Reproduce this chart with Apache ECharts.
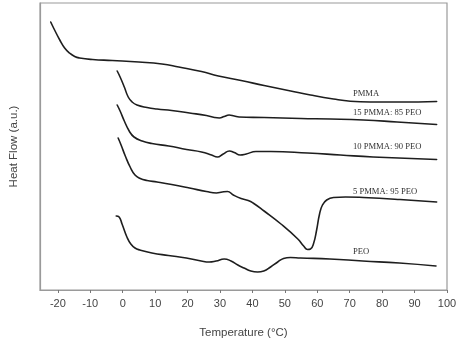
<!DOCTYPE html>
<html>
<head>
<meta charset="utf-8">
<script src="https://cdn.jsdelivr.net/npm/echarts@6/dist/echarts.min.js"></script>
<style>
html,body{margin:0;padding:0;background:#fff;}
#chart{width:467px;height:347px;}
</style>
</head>
<body>
<div id="chart"></div>
<script>
// Temperature tick labels
var xTicks = [-20, -10, 0, 10, 20, 30, 40, 50, 60, 70, 80, 90, 100];

// PMMA
var pmmaT = [-22.2, -21.0, -19.4, -17.9, -16.4, -14.8, -13.3, -9.3, -3.2, 5.0, 12.1, 17.3, 24.3, 29.5, 36.5, 43.6, 51.8, 57.9, 65.0, 70.2, 76.3, 85.4, 96.8];
var pmmaY = [270, 262, 252, 244, 239, 235.5, 234, 232.5, 231.5, 230, 228, 225, 220.5, 216, 211.5, 206.5, 201, 197, 193, 190.8, 190, 190, 190.5];

// 15 PMMA : 85 PEO
var p15T = [-1.7, -0.8, 0.5, 1.7, 2.9, 4.4, 7.5, 10.6, 15.1, 20.6, 25.8, 28.3, 29.8, 31.3, 32.8, 34.4, 35.9, 43.6, 54.9, 64.1, 74.2, 84.6, 96.8];
var p15Y = [221, 215, 205, 195, 190, 187, 184.5, 183, 181.5, 179, 176.5, 174.5, 174, 175.5, 177, 176, 175, 174.5, 173.5, 173, 172, 170, 167.5];

// 10 PMMA : 90 PEO
var p10T = [-1.7, -0.8, 0.5, 2.0, 3.5, 6.0, 9.0, 14.2, 19.7, 24.3, 27.4, 29.2, 31.0, 32.9, 34.4, 36.2, 38.1, 41.1, 45.7, 57.0, 67.1, 77.2, 96.8];
var p10Y = [187, 181, 171, 161, 155, 151, 148.5, 146, 142.5, 140, 137, 135, 138, 141, 139.5, 137, 138, 140.5, 140.5, 139, 137, 135, 132.5];

// 5 PMMA : 95 PEO
var p5T = [-1.4, -0.5, 0.8, 2.3, 3.8, 5.4, 7.5, 10.6, 15.1, 20.6, 25.8, 28.9, 30.7, 32.3, 34.1, 36.5, 38.7, 40.2, 43.6, 48.8, 54.0, 55.8, 57.0, 57.9, 58.9, 59.8, 60.7, 61.6, 62.9, 65.0, 68.7, 74.2, 85.5, 96.8];
var p5Y = [154, 147, 136, 125, 117, 113.5, 111.5, 110, 107.5, 104, 100.5, 99, 100, 100.5, 97, 93.5, 91.5, 89, 81, 68, 53, 46, 42.5, 43, 49, 62, 78, 87, 92, 94.5, 95, 94.5, 92.5, 90];

// PEO
var peoT = [-2.0, -1.1, -0.2, 1.3, 2.5, 3.8, 5.3, 9.0, 14.1, 19.6, 24.2, 26.7, 28.8, 31.3, 33.4, 35.5, 37.4, 39.5, 41.6, 43.5, 45.6, 47.8, 49.6, 51.7, 54.8, 63.9, 74.0, 85.3, 96.6];
var peoY = [76, 75, 68, 55, 48, 44, 42, 39, 36.5, 34, 31, 30, 31, 33, 31, 27, 24, 21, 20, 21, 25, 30, 33.5, 34.5, 34, 33, 31, 29, 26];

// Curve labels: name, temperature, heat-flow position
var labelNames = ['PMMA', '15 PMMA: 85 PEO', '10 PMMA: 90 PEO', '5 PMMA: 95 PEO', 'PEO'];
var labelT = [71, 71, 71, 71, 71];
var labelY = [198, 179, 145, 100, 40];

function pairs(xs, ys) {
  var out = [];
  for (var i = 0; i < xs.length; i++) out.push([xs[i], ys[i]]);
  return out;
}

var curves = [[pmmaT, pmmaY], [p15T, p15Y], [p10T, p10Y], [p5T, p5Y], [peoT, peoY]];
var series = curves.map(function (c, i) {
  return {
    type: 'line',
    name: labelNames[i],
    data: pairs(c[0], c[1]),
    showSymbol: false,
    smooth: 0.5,
    lineStyle: { color: '#1e1e1e', width: 1.6, join: 'round', cap: 'round' },
    silent: true,
    markPoint: {
      symbol: 'circle',
      symbolSize: 0,
      data: [{ coord: [labelT[i], labelY[i]] }],
      label: {
        show: true,
        formatter: labelNames[i],
        position: 'inside',
        align: 'left',
        verticalAlign: 'middle',
        color: '#333',
        fontFamily: 'Liberation Serif',
        fontSize: 8.6
      }
    }
  };
});

var chart = echarts.init(document.getElementById('chart'), null, { renderer: 'canvas' });
chart.setOption({
  animation: false,
  backgroundColor: '#fff',
  grid: { left: 37, right: 20, top: 3, bottom: 57, show: true, borderColor: '#9a9a9a', borderWidth: 1.2, backgroundColor: 'transparent' },
  xAxis: {
    type: 'value',
    min: -25.5,
    max: 100,
    name: 'Temperature (°C)',
    nameLocation: 'middle',
    nameGap: 37,
    nameTextStyle: { fontFamily: 'Liberation Sans', fontSize: 11.5, color: '#444' },
    axisLine: { show: true, onZero: false, lineStyle: { color: '#9a9a9a', width: 1.2 } },
    axisTick: { show: true, length: 3, inside: false, customValues: xTicks, lineStyle: { color: '#777' } },
    axisLabel: { customValues: xTicks, fontFamily: 'Liberation Sans', fontSize: 11, color: '#444', margin: 8 },
    splitLine: { show: false }
  },
  yAxis: {
    type: 'value',
    min: 2,
    max: 289,
    name: 'Heat Flow (a.u.)',
    nameLocation: 'middle',
    nameGap: 20,
    nameRotate: 90,
    nameTextStyle: { fontFamily: 'Liberation Sans', fontSize: 11.5, color: '#444' },
    axisLine: { show: true, onZero: false, lineStyle: { color: '#9a9a9a', width: 1.2 } },
    axisTick: { show: false },
    axisLabel: { show: false },
    splitLine: { show: false }
  },
  series: series
});
</script>
</body>
</html>
